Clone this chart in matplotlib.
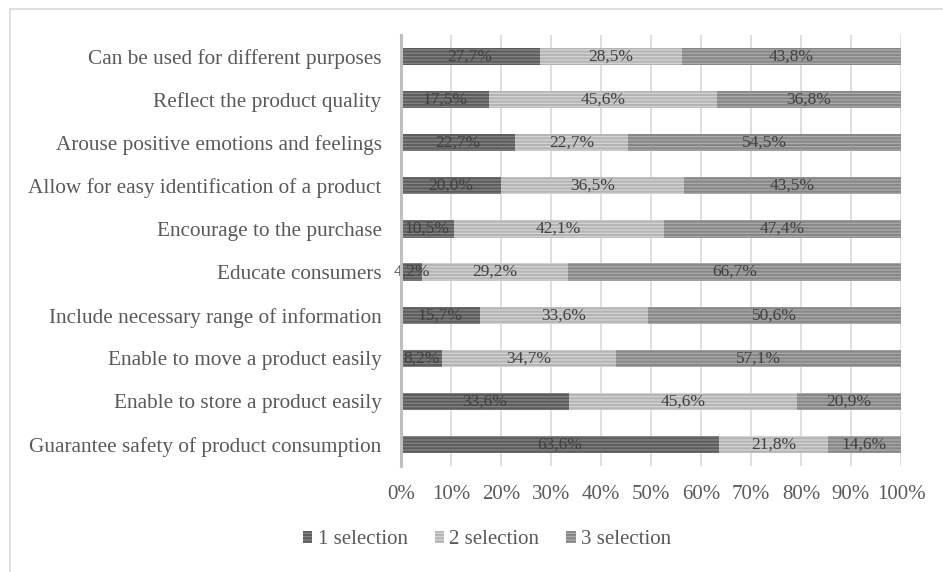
import matplotlib.pyplot as plt
from matplotlib.patches import Patch
from matplotlib.lines import Line2D
import numpy as np

plt.rcParams['font.family'] = ['Liberation Serif', 'DejaVu Serif']
plt.rcParams['hatch.linewidth'] = 1.4

# categories from bottom to top
categorias = [
    "Guarantee safety of product consumption",
    "Enable to store a product easily",
    "Enable to move a product easily",
    "Include necessary range of information",
    "Educate consumers",
    "Encourage to the purchase",
    "Allow for easy identification of a product",
    "Arouse positive emotions and feelings",
    "Reflect the product quality",
    "Can be used for different purposes",
]
sel1 = [63.6, 33.6, 8.2, 15.7, 4.2, 10.5, 20.0, 22.7, 17.5, 27.7]
sel2 = [21.8, 45.6, 34.7, 33.6, 29.2, 42.1, 36.5, 22.7, 45.6, 28.5]
sel3 = [14.6, 20.9, 57.1, 50.6, 66.7, 47.4, 43.5, 54.5, 36.8, 43.8]
series = ["1 selection", "2 selection", "3 selection"]
x_ticks = [0, 10, 20, 30, 40, 50, 60, 70, 80, 90, 100]

colores = ["#828282", "#d2d2d2", "#a8a8a8"]
rayas = ["#5c5c5c", "#b4b4b4", "#878787"]
txt = "#595959"

fig = plt.figure(figsize=(9.43, 5.72), dpi=100)
ax = fig.add_axes([401 / 943, 1 - 466 / 572, 500 / 943, 431 / 572])

datos = np.array([sel1, sel2, sel3])
totales = datos.sum(axis=0)
y = np.arange(len(categorias))
izq = np.zeros(len(categorias))
for k in range(3):
    ancho = datos[k] / totales * 100
    ax.barh(y, ancho, left=izq, height=0.4, color=colores[k], edgecolor=rayas[k],
            linewidth=0, hatch="-----", zorder=2)
    for i in range(len(categorias)):
        ax.text(izq[i] + ancho[i] / 2, y[i], f"{datos[k][i]:.1f}%".replace(".", ","),
                ha="center", va="center", fontsize=12.5, color="#404040", zorder=3)
    izq = izq + ancho

ax.set_xlim(0, 100)
ax.set_ylim(-0.5, len(categorias) - 0.5)
ax.set_xticks(x_ticks)
ax.set_xticklabels([f"{t}%" for t in x_ticks])
ax.set_yticks(y)
ax.set_yticklabels(categorias)
ax.tick_params(axis="x", length=0, labelsize=15, labelcolor=txt, pad=14)
ax.tick_params(axis="y", length=0, labelsize=15.3, labelcolor=txt, pad=14)
ax.grid(axis="x", color="#d9d9d9", linewidth=1.2, zorder=0)
ax.set_axisbelow(True)
for s in ["top", "right", "bottom"]:
    ax.spines[s].set_visible(False)
ax.spines["left"].set_color("#bfbfbf")
ax.spines["left"].set_linewidth(2.2)
ax.spines["left"].set_zorder(4)

# legend
handles = [Patch(facecolor=colores[k], edgecolor=rayas[k], linewidth=0, hatch="-----")
           for k in range(3)]
fig.legend(handles, series, loc="center", bbox_to_anchor=(487 / 943, 1 - 540 / 572),
           ncol=3, frameon=False, fontsize=15, handlelength=0.45, handleheight=0.45,
           handletextpad=0.25, columnspacing=1.3, labelcolor=txt)

# outer border
fig.add_artist(Line2D([10 / 943, 1], [1 - 9 / 572, 1 - 9 / 572], color="#d9d9d9", lw=1.2))
fig.add_artist(Line2D([10 / 943, 10 / 943], [0, 1 - 9 / 572], color="#d9d9d9", lw=1.2))

fig.savefig("out.png", dpi=100)
